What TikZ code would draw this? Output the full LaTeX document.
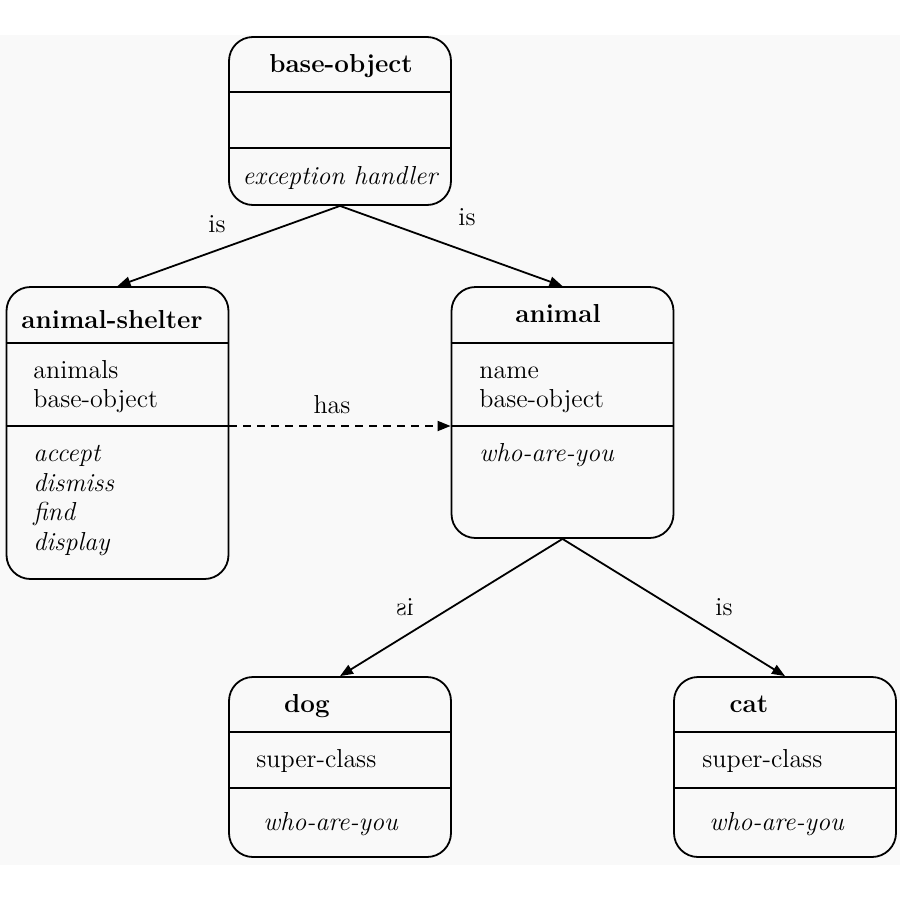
\documentclass[tikz,border=0pt]{standalone}
\usetikzlibrary{arrows.meta}
\definecolor{bgcol}{HTML}{F9F9F9}
\begin{document}
\begin{tikzpicture}[x=0.5pt,y=-0.5pt,
  umlbox/.style={draw, line width=0.9pt, rounded corners=12pt, minimum width=111pt, inner sep=0pt},
  divider/.style={line width=0.9pt},
  title/.style={font=\fontsize{13}{16}\selectfont\bfseries, text height=8.8pt, text depth=2.7pt, inner sep=0pt},
  item/.style={font=\fontsize{13}{16}\selectfont, anchor=west, text height=8.8pt, text depth=2.7pt, inner sep=0pt},
  meth/.style={item, font=\fontsize{13}{16}\selectfont\itshape},
  lbl/.style={font=\fontsize{13}{16}\selectfont, text height=8.8pt, text depth=2.7pt, inner sep=0pt},
  arr/.style={line width=0.9pt, -{Triangle[length=6.5pt,width=5pt]}}]
\useasboundingbox (0,0) rectangle (900,900);
\fill[bgcol] (0,35) rectangle (900,865);
% boxes
\node[umlbox, minimum height=84pt] (base) at (340,121) {};
\node[umlbox, minimum height=146pt] (shelter) at (117.5,433) {};
\node[umlbox, minimum height=125.5pt] (animal) at (562.5,412.5) {};
\node[umlbox, minimum height=90pt] (dog) at (340,767) {};
\node[umlbox, minimum height=90pt] (cat) at (785,767) {};
% divider heights
\coordinate (b1) at (0,92);
\coordinate (b2) at (0,148);
\coordinate (m1) at (0,343);
\coordinate (m2) at (0,426);
\coordinate (d1) at (0,732);
\coordinate (d2) at (0,788);
\draw[divider] (base.west |- b1) -- (base.east |- b1);
\draw[divider] (base.west |- b2) -- (base.east |- b2);
\draw[divider] (shelter.west |- m1) -- (shelter.east |- m1);
\draw[divider] (shelter.west |- m2) -- (shelter.east |- m2);
\draw[divider] (animal.west |- m1) -- (animal.east |- m1);
\draw[divider] (animal.west |- m2) -- (animal.east |- m2);
\draw[divider] (dog.west |- d1) -- (dog.east |- d1);
\draw[divider] (dog.west |- d2) -- (dog.east |- d2);
\draw[divider] (cat.west |- d1) -- (cat.east |- d1);
\draw[divider] (cat.west |- d2) -- (cat.east |- d2);
% titles
\node[title] (tbase) at (341,66) {base-object};
\node[title] (tshelter) at (112,322) {animal-shelter};
\node[title] (tanimal) at (558,316) {animal};
\node[title] (tdog) at (307,706) {dog};
\node[title] (tcat) at (749,706) {cat};
% contents
\node[meth, anchor=center] (exc) at (340,178) {exception handler};
\node[item] (sa1) at (33,372) {animals};
\node[item] (sa2) at (33,401) {base-object};
\node[meth] (sm1) at (33,455) {accept};
\node[meth] (sm2) at (33,485) {dismiss};
\node[meth] (sm3) at (33,514) {find};
\node[meth] (sm4) at (33,544) {display};
\node[item] (aa1) at (479,372) {name};
\node[item] (aa2) at (479,401) {base-object};
\node[meth] (am1) at (479,455) {who-are-you};
\node[item] (da1) at (256,761) {super-class};
\node[meth] (dm1) at (263,824) {who-are-you};
\node[item] (ca1) at (702,761) {super-class};
\node[meth] (cm1) at (709,824) {who-are-you};
% connectors
\draw[arr] (base.south) -- (shelter.north);
\draw[arr] (base.south) -- (animal.north);
\draw[arr] (animal.south) -- (dog.north);
\draw[arr] (animal.south) -- (cat.north);
\draw[arr, dashed, dash pattern=on 4pt off 3pt] (shelter.east |- m2) -- (animal.west |- m2);
% labels
\node[lbl] (l1) at (217,226) {is};
\node[lbl] (l2) at (467,219) {is};
\node[lbl, xscale=-1] (l3) at (405,609) {is};
\node[lbl] (l4) at (724,609) {is};
\node[lbl] (l5) at (332,407) {has};
\end{tikzpicture}
\end{document}
